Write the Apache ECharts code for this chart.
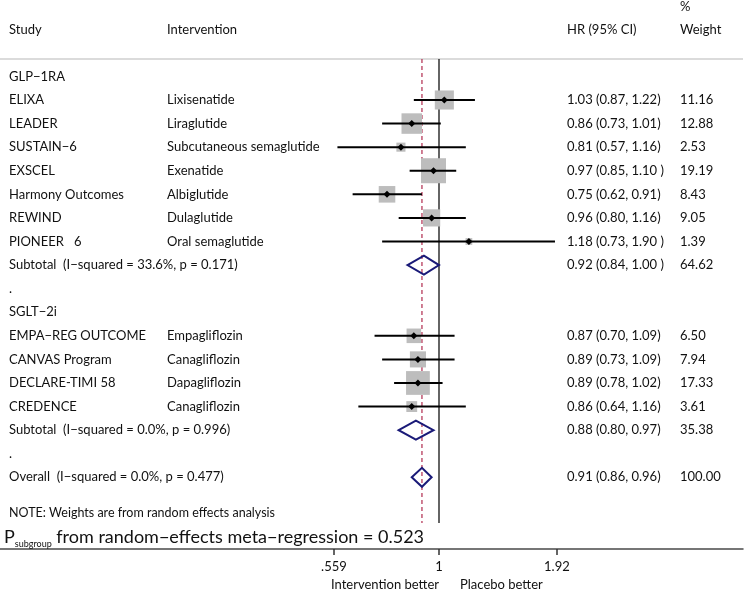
<!DOCTYPE html>
<html>
<head>
<meta charset="utf-8">
<script src="https://cdn.jsdelivr.net/npm/echarts@6/dist/echarts.min.js"></script>
<style>html,body{margin:0;padding:0;background:#fff}#c{width:755px;height:592px}</style>
</head>
<body>
<div id="c"></div>
<script>
// ---------- data ----------
const groupLabels = ['GLP\u22121RA', 'SGLT\u22122i'];
const groupRows = [0, 10];
const blankRows = [9, 16];

const studies = ['ELIXA', 'LEADER', 'SUSTAIN\u22126', 'EXSCEL', 'Harmony Outcomes', 'REWIND', 'PIONEER   6',
  'EMPA\u2212REG OUTCOME', 'CANVAS Program', 'DECLARE-TIMI 58', 'CREDENCE'];
const interventions = ['Lixisenatide', 'Liraglutide', 'Subcutaneous semaglutide', 'Exenatide', 'Albiglutide',
  'Dulaglutide', 'Oral semaglutide', 'Empagliflozin', 'Canagliflozin', 'Dapagliflozin', 'Canagliflozin'];
const studyRows = [1, 2, 3, 4, 5, 6, 7, 11, 12, 13, 14];
const studyHR = [1.03, 0.86, 0.81, 0.97, 0.75, 0.96, 1.18, 0.87, 0.89, 0.89, 0.86];
const studyLo = [0.87, 0.73, 0.57, 0.85, 0.62, 0.80, 0.73, 0.70, 0.73, 0.78, 0.64];
const studyHi = [1.22, 1.01, 1.16, 1.10, 0.91, 1.16, 1.90, 1.09, 1.09, 1.02, 1.16];
const studyWeight = [11.16, 12.88, 2.53, 19.19, 8.43, 9.05, 1.39, 6.50, 7.94, 17.33, 3.61];
const studyHRText = ['1.03 (0.87, 1.22)', '0.86 (0.73, 1.01)', '0.81 (0.57, 1.16)', '0.97 (0.85, 1.10 )',
  '0.75 (0.62, 0.91)', '0.96 (0.80, 1.16)', '1.18 (0.73, 1.90 )', '0.87 (0.70, 1.09)', '0.89 (0.73, 1.09)',
  '0.89 (0.78, 1.02)', '0.86 (0.64, 1.16)'];

const pooledLabels = ['Subtotal  (I\u2212squared = 33.6%, p = 0.171)', 'Subtotal  (I\u2212squared = 0.0%, p = 0.996)',
  'Overall  (I\u2212squared = 0.0%, p = 0.477)'];
const pooledRows = [8, 15, 17];
const pooledHR = [0.92, 0.88, 0.91];
const pooledLo = [0.84, 0.80, 0.86];
const pooledHi = [1.00, 0.97, 0.96];
const pooledWeight = [64.62, 35.38, 100.00];
const pooledHRText = ['0.92 (0.84, 1.00 )', '0.88 (0.80, 0.97)', '0.91 (0.86, 0.96)'];

const nullValue = 1;
const overallValue = 0.91;
const tickValues = [0.559, 1, 1.92];
const tickLabels = ['.559', '1', '1.92'];

const headers = ['Study', 'Intervention', 'HR (95% CI)', 'Weight'];
const noteText = 'NOTE: Weights are from random effects analysis';

// ---------- layout ----------
const FONT = 'Lato';
const COL_STUDY = 9, COL_INT = 167, COL_HR = 567, COL_W = 680;
const ROW_HEADER = -1.97, ROW_PCT = -2.95, ROW_RULE = -0.74, ROW_LINE_END = 18.94;
const ROW_NOTE = 18.5, ROW_PSUB = 19.5, ROW_XNAME = 21.57;
const X_MIN = -2.4295, X_MAX = 1.6824;
const BOX_K = 5.71;      // px per sqrt(weight)
const DIAM_H = 9.5;

const LN = Math.log;

// text items built from arrays
const textItems = [];
headers.forEach((h, i) => textItems.push({row: ROW_HEADER, x: [COL_STUDY, COL_INT, COL_HR, COL_W][i], text: h}));
textItems.push({row: ROW_PCT, x: COL_W, text: '%'});
groupLabels.forEach((g, i) => textItems.push({row: groupRows[i], x: COL_STUDY, text: g}));
blankRows.forEach(r => textItems.push({row: r, x: COL_STUDY, text: '.'}));
studies.forEach((s, i) => {
  textItems.push({row: studyRows[i], x: COL_STUDY, text: s});
  textItems.push({row: studyRows[i], x: COL_INT, text: interventions[i]});
  textItems.push({row: studyRows[i], x: COL_HR, text: studyHRText[i]});
  textItems.push({row: studyRows[i], x: COL_W, text: studyWeight[i].toFixed(2)});
});
pooledLabels.forEach((s, i) => {
  textItems.push({row: pooledRows[i], x: COL_STUDY, text: s});
  textItems.push({row: pooledRows[i], x: COL_HR, text: pooledHRText[i]});
  textItems.push({row: pooledRows[i], x: COL_W, text: pooledWeight[i].toFixed(2)});
});
textItems.push({row: ROW_NOTE, x: COL_STUDY, text: noteText, size: 12.5});

const chart = echarts.init(document.getElementById('c'));
chart.setOption({
  animation: false,
  grid: {left: 0, right: 12, top: 0, bottom: 43},
  xAxis: {
    type: 'value', min: X_MIN, max: X_MAX,
    splitLine: {show: false},
    axisLine: {show: true, onZero: false, lineStyle: {color: '#4a4a4a', width: 1.5}},
    axisTick: {show: true, length: 6, customValues: tickValues.map(LN), lineStyle: {color: '#333', width: 1.5}},
    axisLabel: {
      show: true, margin: 11, fontFamily: FONT, fontSize: 13, color: '#111',
      customValues: tickValues.map(LN),
      formatter: v => {
        let best = 0;
        tickValues.forEach((t, i) => { if (Math.abs(LN(t) - v) < Math.abs(LN(tickValues[best]) - v)) best = i; });
        return tickLabels[best];
      }
    }
  },
  yAxis: {type: 'value', inverse: true, min: -3.24, max: 20.04, show: false},
  series: [
    { // header rule and reference lines
      type: 'custom', z: 1, clip: false,
      data: [[0]],
      renderItem: (params, api) => {
        const yRule = api.coord([0, ROW_RULE])[1];
        const yEnd = api.coord([0, ROW_LINE_END])[1];
        const x0 = api.coord([X_MIN, 0])[0], x1 = api.coord([X_MAX, 0])[0];
        const xn = api.coord([LN(nullValue), 0])[0];
        const xo = api.coord([LN(overallValue), 0])[0];
        return {type: 'group', children: [
          {type: 'line', shape: {x1: x0, y1: yRule, x2: x1, y2: yRule}, style: {stroke: '#cfcfcf', lineWidth: 1.5}},
          {type: 'line', shape: {x1: xn, y1: yRule, x2: xn, y2: yEnd}, style: {stroke: '#111', lineWidth: 1.3}},
          {type: 'line', shape: {x1: xo, y1: yRule, x2: xo, y2: yEnd}, style: {stroke: '#b02a4e', lineWidth: 1.2, lineDash: [4, 3]}}
        ]};
      }
    },
    { // study boxes, CI lines, point markers
      type: 'custom', z: 3, clip: false,
      data: studyRows.map((r, i) => [LN(studyHR[i]), r, LN(studyLo[i]), LN(studyHi[i]), studyWeight[i]]),
      renderItem: (params, api) => {
        const c = api.coord([api.value(0), api.value(1)]);
        const lo = api.coord([api.value(2), api.value(1)]);
        const hi = api.coord([api.value(3), api.value(1)]);
        const s = BOX_K * Math.sqrt(api.value(4));
        return {type: 'group', children: [
          {type: 'rect', shape: {x: c[0] - s / 2, y: c[1] - s / 2, width: s, height: s}, style: {fill: '#bdbdbd'}},
          {type: 'line', shape: {x1: lo[0], y1: c[1], x2: hi[0], y2: c[1]}, style: {stroke: '#000', lineWidth: 2}},
          {type: 'polygon', shape: {points: [[c[0] - 3.5, c[1]], [c[0], c[1] - 3.5], [c[0] + 3.5, c[1]], [c[0], c[1] + 3.5]]}, style: {fill: '#000'}}
        ]};
      }
    },
    { // pooled diamonds
      type: 'custom', z: 3, clip: false,
      data: pooledRows.map((r, i) => [LN(pooledHR[i]), r, LN(pooledLo[i]), LN(pooledHi[i])]),
      renderItem: (params, api) => {
        const c = api.coord([api.value(0), api.value(1)]);
        const lo = api.coord([api.value(2), api.value(1)]);
        const hi = api.coord([api.value(3), api.value(1)]);
        return {type: 'polygon', shape: {points: [[lo[0], c[1]], [c[0], c[1] - DIAM_H], [hi[0], c[1]], [c[0], c[1] + DIAM_H]]},
          style: {fill: 'none', stroke: '#1a1a78', lineWidth: 2}};
      }
    },
    { // table text
      type: 'custom', z: 4, clip: false,
      data: textItems.map((t, i) => [0, t.row, i]),
      renderItem: (params, api) => {
        const t = textItems[params.dataIndex];
        const y = api.coord([0, t.row])[1];
        return {type: 'text', x: t.x, y: y, style: {text: t.text, fill: '#111', font: (t.size || 13) + 'px ' + FONT, align: 'left', verticalAlign: 'middle'}};
      }
    },
    { // p subgroup line and axis titles
      type: 'custom', z: 4, clip: false,
      data: [[0]],
      renderItem: (params, api) => {
        const yP = api.coord([0, ROW_PSUB])[1];
        const yN = api.coord([0, ROW_XNAME])[1];
        const xn = api.coord([LN(nullValue), 0])[0];
        return {type: 'group', children: [
          {type: 'text', x: 4, y: yP, style: {
            text: '{p|P}{s|subgroup}{p| from random\u2212effects meta\u2212regression = 0.523}',
            align: 'left', verticalAlign: 'middle',
            rich: {
              p: {fontFamily: FONT, fontSize: 18, fill: '#111', verticalAlign: 'bottom', lineHeight: 20},
              s: {fontFamily: FONT, fontSize: 9, fill: '#111', verticalAlign: 'bottom', lineHeight: 20, padding: [0, 0, -2, 0]}
            }
          }},
          {type: 'text', x: xn, y: yN, style: {text: 'Intervention better', fill: '#111', font: '13px ' + FONT, align: 'right', verticalAlign: 'middle'}},
          {type: 'text', x: xn + 21, y: yN, style: {text: 'Placebo better', fill: '#111', font: '13px ' + FONT, align: 'left', verticalAlign: 'middle'}}
        ]};
      }
    }
  ]
});
</script>
</body>
</html>
